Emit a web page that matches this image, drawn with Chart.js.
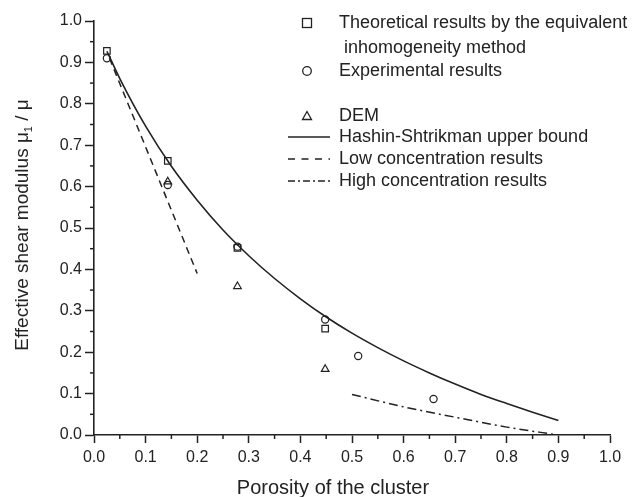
<!DOCTYPE html>
<html>
<head>
<meta charset="utf-8">
<script src="https://cdn.jsdelivr.net/npm/chart.js@4.4.1/dist/chart.umd.min.js"></script>
<style>
  html, body { margin: 0; padding: 0; background: #fff; }
  #wrap { width: 633px; height: 497px; }
</style>
</head>
<body>
<div id="wrap"><canvas id="chart"></canvas></div>
<script>
// values
const tickValues = [0, 0.1, 0.2, 0.3, 0.4, 0.5, 0.6, 0.7, 0.8, 0.9, 1.0];

const theoryX = [0.025, 0.143, 0.278, 0.448];
const theoryY = [0.928, 0.662, 0.452, 0.257];

const expX = [0.025, 0.143, 0.278, 0.448, 0.512, 0.658];
const expY = [0.910, 0.604, 0.455, 0.279, 0.191, 0.087];

const demX = [0.143, 0.278, 0.448];
const demY = [0.612, 0.359, 0.159];

const hsX = [0.025, 0.05, 0.1, 0.15, 0.2, 0.25, 0.3, 0.35, 0.4, 0.45, 0.5, 0.55, 0.6, 0.65, 0.7, 0.75, 0.8, 0.85, 0.9];
const hsY = [0.927, 0.861, 0.746, 0.649, 0.567, 0.495, 0.433, 0.378, 0.329, 0.285, 0.246, 0.211, 0.179, 0.150, 0.123, 0.098, 0.076, 0.055, 0.035];

const lowX = [0.03, 0.2];
const lowY = [0.910, 0.390];

const highX = [0.5, 0.6, 0.7, 0.8, 0.9];
const highY = [0.098, 0.068, 0.043, 0.019, 0.0];

const xTitle = 'Porosity of the cluster';

const legendLabels = [
  'Theoretical results by the equivalent',
  ' inhomogeneity method',
  'Experimental results',
  'DEM',
  'Hashin-Shtrikman upper bound',
  'Low concentration results',
  'High concentration results'
];

const INK = '#222';
const FONT = '"Liberation Sans", Arial, sans-serif';

function pts(xs, ys) {
  return xs.map((x, i) => ({ x: x, y: ys[i] }));
}

// minor ticks, axis titles (y has a subscript), and the legend
const extras = {
  id: 'extras',
  afterDraw(chart) {
    const ctx = chart.ctx;
    const xs = chart.scales.x, ys = chart.scales.y;
    const area = chart.chartArea;
    ctx.save();
    ctx.strokeStyle = INK;
    ctx.lineWidth = 1.5;
    for (let i = 0; i < tickValues.length - 1; i++) {
      const m = (tickValues[i] + tickValues[i + 1]) / 2;
      const px = xs.getPixelForValue(m);
      ctx.beginPath(); ctx.moveTo(px, area.bottom); ctx.lineTo(px, area.bottom + 4); ctx.stroke();
      const py = ys.getPixelForValue(m);
      ctx.beginPath(); ctx.moveTo(area.left, py); ctx.lineTo(area.left - 4, py); ctx.stroke();
    }

    // x title
    ctx.fillStyle = INK;
    ctx.font = '20px ' + FONT;
    ctx.textAlign = 'center';
    ctx.textBaseline = 'alphabetic';
    ctx.fillText(xTitle, 333, 494);
    ctx.textAlign = 'left';

    // y title
    ctx.translate(28, 225);
    ctx.rotate(-Math.PI / 2);
    const f = '19px ' + FONT, fs = '11px ' + FONT;
    ctx.font = f;
    const a = 'Effective shear modulus \u03bc', b = '1', c = ' / \u03bc';
    const wa = ctx.measureText(a).width, wc = ctx.measureText(c).width;
    ctx.font = fs;
    const wb = ctx.measureText(b).width;
    let x0 = -(wa + wb + wc) / 2;
    ctx.font = f; ctx.fillText(a, x0, 0);
    ctx.font = fs; ctx.fillText(b, x0 + wa, 4);
    ctx.font = f; ctx.fillText(c, x0 + wa + wb, 0);
    ctx.restore();

    // legend
    ctx.save();
    ctx.fillStyle = INK;
    ctx.strokeStyle = INK;
    ctx.font = '18px ' + FONT;
    ctx.textBaseline = 'middle';
    const tx = 339;
    const rows = [23, 48, 71, 116, 137, 159, 181];
    legendLabels.forEach((t, i) => ctx.fillText(t, tx, rows[i]));
    ctx.lineWidth = 1.3;
    ctx.strokeRect(302.5, 18.5, 9, 9);
    ctx.beginPath(); ctx.arc(307, rows[2], 4.3, 0, Math.PI * 2); ctx.stroke();
    ctx.beginPath();
    ctx.moveTo(307, rows[3] - 4.5); ctx.lineTo(311.5, rows[3] + 3.5); ctx.lineTo(302.5, rows[3] + 3.5); ctx.closePath(); ctx.stroke();
    ctx.lineWidth = 1.5;
    const line = (y, dash) => {
      ctx.setLineDash(dash);
      ctx.beginPath(); ctx.moveTo(288, y); ctx.lineTo(330, y); ctx.stroke();
    };
    line(rows[4], []);
    line(rows[5], [7, 6.5]);
    line(rows[6], [7, 3, 2, 3]);
    ctx.restore();
  }
};

const markerStyle = {
  showLine: false,
  borderColor: INK,
  backgroundColor: 'rgba(0,0,0,0)',
  borderWidth: 1.2
};

new Chart(document.getElementById('chart'), {
  type: 'scatter',
  data: {
    datasets: [
      Object.assign({ label: 'Theoretical', data: pts(theoryX, theoryY), pointStyle: 'rect', pointRadius: 4.6 }, markerStyle),
      Object.assign({ label: 'Experimental', data: pts(expX, expY), pointStyle: 'circle', pointRadius: 3.6 }, markerStyle),
      Object.assign({ label: 'DEM', data: pts(demX, demY), pointStyle: 'triangle', pointRadius: 4.4 }, markerStyle),
      { label: 'HS', data: pts(hsX, hsY), showLine: true, pointRadius: 0, borderColor: INK, borderWidth: 1.6, cubicInterpolationMode: 'monotone' },
      { label: 'Low', data: pts(lowX, lowY), showLine: true, pointRadius: 0, borderColor: INK, borderWidth: 1.5, borderDash: [7, 5] },
      { label: 'High', data: pts(highX, highY), showLine: true, pointRadius: 0, borderColor: INK, borderWidth: 1.5, borderDash: [9, 4, 2, 4], cubicInterpolationMode: 'monotone' }
    ]
  },
  options: {
    responsive: true,
    maintainAspectRatio: false,
    animation: false,
    layout: { padding: { top: 21, right: 23, left: 0, bottom: 0 } },
    plugins: { legend: { display: false }, tooltip: { enabled: false } },
    scales: {
      x: {
        type: 'linear', min: 0, max: 1,
        afterFit(s) { s.height = 62; },
        afterBuildTicks(s) { s.ticks = tickValues.map(v => ({ value: v })); },
        ticks: { font: { size: 16, family: FONT }, color: INK, padding: 5, maxRotation: 0, callback: v => v.toFixed(1) },
        grid: { drawOnChartArea: false, drawTicks: true, tickLength: 8, tickColor: INK, tickWidth: 1.5 },
        border: { display: true, color: INK, width: 1.6 }
      },
      y: {
        type: 'linear', min: 0, max: 1,
        afterFit(s) { s.width = 94; },
        afterBuildTicks(s) { s.ticks = tickValues.map(v => ({ value: v })); },
        ticks: { font: { size: 16, family: FONT }, color: INK, padding: 3, callback: v => v.toFixed(1) },
        grid: { drawOnChartArea: false, drawTicks: true, tickLength: 9, tickColor: INK, tickWidth: 1.5 },
        border: { display: true, color: INK, width: 1.6 }
      }
    }
  },
  plugins: [extras]
});
</script>
</body>
</html>
